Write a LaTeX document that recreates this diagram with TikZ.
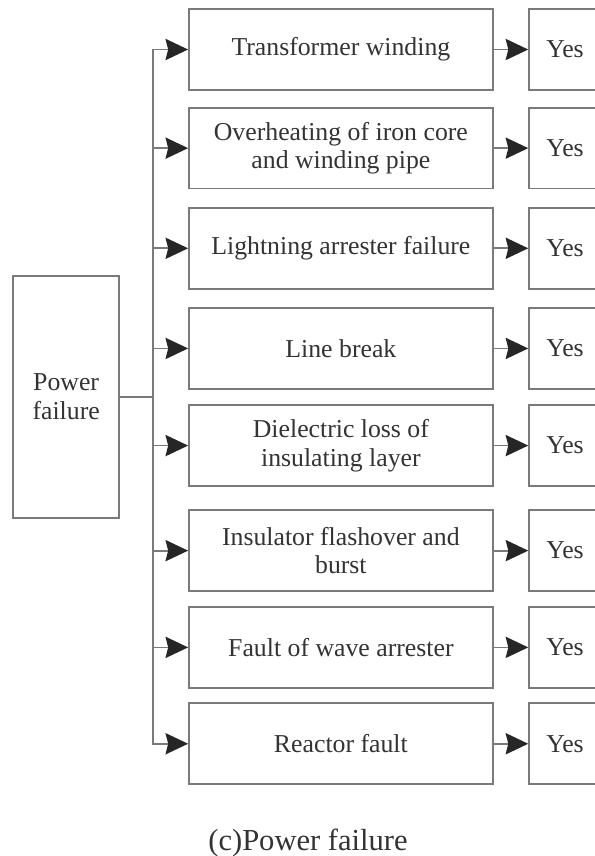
\documentclass[tikz,border=0pt]{standalone}
\usepackage{fontspec}
\setmainfont{Liberation Serif}
\usetikzlibrary{arrows.meta, positioning}
\definecolor{lineGray}{HTML}{7A7A7A}
\definecolor{textGray}{HTML}{333333}
\tikzset{
    pfBlock/.style={
        draw=lineGray, fill=white, line width=1.3pt, align=center, text=textGray, inner sep=2pt,
        font=\fontsize{19.4}{21.5}\selectfont
    },
    pfRoot/.style={
        pfBlock, minimum width=2.80cm, minimum height=6.40cm
    },
    pfCause/.style={
        pfBlock, minimum width=8.04cm, minimum height=2.14cm
    },
    pfResult/.style={
        pfBlock, minimum width=1.90cm, minimum height=2.14cm
    },
    pfArrow/.style={
        -{Stealth[length=17pt, width=16pt, inset=2pt, color=black!85]}, line width=1.3pt, draw=lineGray
    },
    pfLine/.style={
        line width=1.3pt, draw=lineGray
    }
}
\begin{document}
\begin{tikzpicture}
    \useasboundingbox (0, 0) rectangle (15.74, -22.65);
    \clip (0, 0) rectangle (15.74, -22.65);

    % ── ROOT
    \node[pfRoot] (root) at (1.75, -10.50) {Power\\failure};
    \coordinate (junction) at (4.05, -10.50);

    % ── CAUSES
    \node[pfCause] (winding) at (9.02, -1.31) {Transformer winding};
    \node[pfCause] (overheat) at (9.02, -3.92) {Overheating of iron core\\and winding pipe};
    \node[pfCause] (arrester) at (9.02, -6.57) {Lightning arrester failure};
    \node[pfCause] (lineBreak) at (9.02, -9.22) {Line break};
    \node[pfCause] (dielectric) at (9.02, -11.79) {Dielectric loss of\\insulating layer};
    \node[pfCause] (flashover) at (9.02, -14.57) {Insulator flashover and\\burst};
    \node[pfCause] (waveArr) at (9.02, -17.13) {Fault of wave arrester};
    \node[pfCause] (reactor) at (9.02, -19.68) {Reactor fault};

    % ── RESULTS
    \node[pfResult] (yesWinding) at (14.95, -1.31) {Yes};
    \node[pfResult] (yesOverheat) at (14.95, -3.92) {Yes};
    \node[pfResult] (yesArrester) at (14.95, -6.57) {Yes};
    \node[pfResult] (yesLineBreak) at (14.95, -9.22) {Yes};
    \node[pfResult] (yesDielectric) at (14.95, -11.79) {Yes};
    \node[pfResult] (yesFlashover) at (14.95, -14.57) {Yes};
    \node[pfResult] (yesWaveArr) at (14.95, -17.13) {Yes};
    \node[pfResult] (yesReactor) at (14.95, -19.68) {Yes};

    % Trunk and branches
    \draw[pfLine] (root.east) -- (junction);
    \draw[pfArrow] (junction) |- (winding.west);
    \draw[pfArrow] (junction) |- (overheat.west);
    \draw[pfArrow] (junction) |- (arrester.west);
    \draw[pfArrow] (junction) |- (lineBreak.west);
    \draw[pfArrow] (junction) |- (dielectric.west);
    \draw[pfArrow] (junction) |- (flashover.west);
    \draw[pfArrow] (junction) |- (waveArr.west);
    \draw[pfArrow] (junction) |- (reactor.west);

    % Cause to result
    \draw[pfArrow] (winding.east) -- (yesWinding.west);
    \draw[pfArrow] (overheat.east) -- (yesOverheat.west);
    \draw[pfArrow] (arrester.east) -- (yesArrester.west);
    \draw[pfArrow] (lineBreak.east) -- (yesLineBreak.west);
    \draw[pfArrow] (dielectric.east) -- (yesDielectric.west);
    \draw[pfArrow] (flashover.east) -- (yesFlashover.west);
    \draw[pfArrow] (waveArr.east) -- (yesWaveArr.west);
    \draw[pfArrow] (reactor.east) -- (yesReactor.west);

    % ── CAPTION
    \node[text=textGray, font=\fontsize{23}{26}\selectfont] (caption) at (8.15, -22.30) {(c)Power failure};
\end{tikzpicture}
\end{document}
